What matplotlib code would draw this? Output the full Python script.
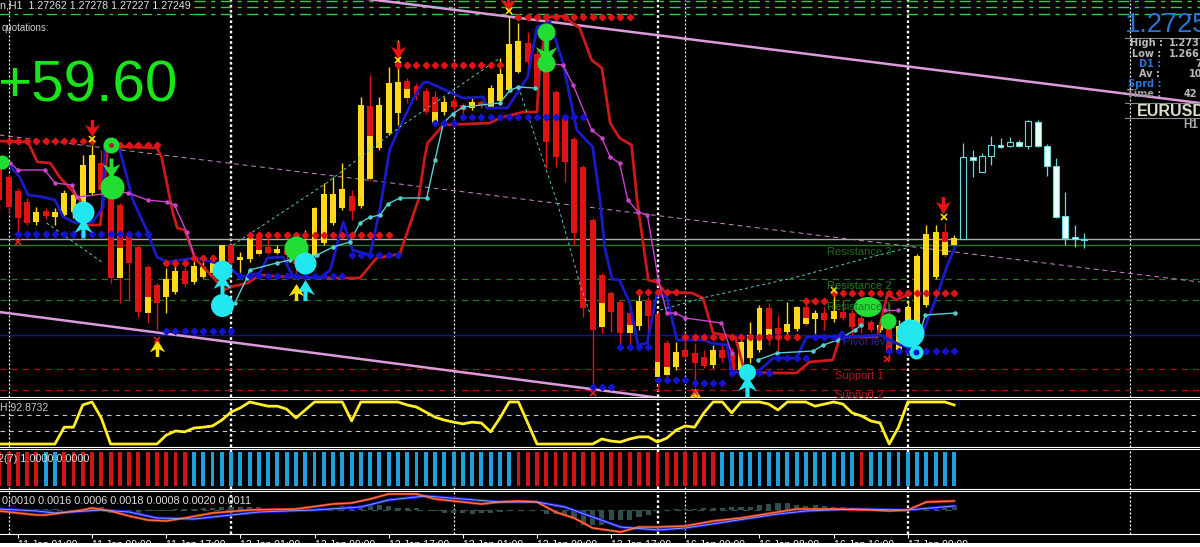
import numpy as np
import matplotlib
matplotlib.use('Agg')
import matplotlib.pyplot as plt
from matplotlib.patches import Ellipse

# all main chart levels are kept in pips above 1.2600
BASE = 1.26
PIP = 0.0001

highs = [162.5,157.5,151,146,141.5,141,141,150,150,167.5,172.5,170,159,143.5,129,122.5,112.5,103.5,111,112.5,
         111.5,115,114,117.5,122.5,123.5,119,127,129,126,122.5,121,125,130,141.5,153.5,156.5,163.5,150,196.5,
         207.5,196.5,211.5,225,206,203.5,201,199.5,196.5,196.5,193.5,196,195,202.5,216,237,233.5,229,220,220,
         200,186.5,176.5,162.5,136,108.5,99.5,95,91,98.5,96.5,89,75,74,76,73.5,70,72.5,72.5,71,
         75,84,92.5,93.5,87.5,94,92,95,90,91.5,100,95,90,87.5,85,83.5,93.5,85,95,118,
         132.5,132.5,133.5,127.5]
opens = [161.5,156.5,149.5,144,134,139.5,136.5,137.5,139,143.5,148.5,163.5,157.5,142.5,127.5,121.5,111.5,102.5,96.5,99,
         109.5,104,106.5,108.5,110,122.5,115,115.5,127.5,121.5,118.5,120,118.5,112.5,117.5,123.5,133.5,141,147,142,
         192,171,178.5,188.5,204.5,202,199.5,196.5,189,194.5,192.5,191,194,191.5,194.5,200,209,223.5,218,211.5,
         199,185.5,175.5,161.5,135,107.5,98.5,94,88.5,82,95,88,73.5,61.5,70,68.5,66.5,62.5,70,67.5,
         60,66,70,91,81,79,80.5,91.5,85.5,88.5,85.5,89,88.5,86,84,80,82,70,77.5,83,
         92.5,106.5,129,122.5]
closes = [145,141.5,136,133.5,139,137,139,148.5,147.5,162.5,167.5,150,106,106,113.5,89,88.5,93.5,105.5,109.5,
          103,112,111.5,113.5,122.5,113.5,116.5,126,118,118.5,120.5,117.5,113,121,141,148,148,150.5,139.5,192.5,
          155.5,192.5,203.5,204,196,197.5,189,183.5,194,191.5,190,194,192.5,201,208,223,224.5,214,201,174,
          166.5,164,128.5,91,80,81.5,89,78.5,78.5,94.5,87,56.5,57.5,69,66.5,63.5,62,70,66,60,
          74,77.5,91,77.5,78,83,91.5,83,88.5,85,89.5,86,81.5,82,80,82.5,69,82,91.5,117,
          128,129,117.5,126]
lows = [140,138.5,127.5,132.5,132.5,135.5,132.5,136.5,136,141,147.5,147.5,103.5,93.5,95,86.5,83.5,80,88.5,98,
        101.5,103,106,107.5,109,112.5,106.5,114,117,118,118,112.5,106,106,116.5,122.5,132.5,140,135,141,
        154.5,170,177.5,182.5,193.5,195,188,182.5,187.5,190,186,190,191,191.5,194,199,208.5,208.5,193.5,161,
        161.5,154,122.5,86.5,51.5,78.5,79,70,72.5,80,73.5,50,56,60,66,51.5,61,61,64,59,
        59,63.5,69,72.5,65,76,79.5,82,76,80,84,85,76.5,78.5,79,79,65,69,76,82,
        91.5,105.5,116.5,122]
# candles with a red top part and a yellow lower part: bar -> level of the colour change
split_levels = {13: 121, 16: 96.5, 28: 120, 40: 177, 44: 200.5, 47: 189, 65: 93.5, 68: 82.5, 71: 64,
                72: 61.5, 83: 80.5, 87: 86, 102: 124}

# projected candles, right of the last bar
future_bars = [104,105,106,107,108,109,110,111,112,113,114,115,116,117]
future_highs = [173.5,170,168.5,177,176,176.5,175,185,185,173,166,149,132.5,128.5]
future_opens = [125.5,166.5,159,167,172.5,172,174,172,184,172,162,137,126.5,125.5]
future_closes = [166.5,165,167,172.5,171.5,174,172,184.5,172,162,136.5,126,125.5,125]
future_lows = [125.5,156.5,159,162.5,171,171.5,171.5,170.5,171.5,157,136,122.5,121.5,121]

blue_bars = [0,0.9,2.2,3.1,4.7,6,6.9,8.2,10.1,11.2,11.4,13,14.4,15.9,17,18.1,21.1,23,24.9,26,28.1,28.9,30.6,31.7,
             34.6,35.7,37.1,38.1,40,41.1,42.1,43.2,44.6,45.7,46.2,50,52.2,52.6,54.8,57,58,59.4,60.8,61.9,62.3,64,
             64.8,65.3,66.1,66.9,68,68.9,69.9,70.9,72,73.1,76.1,76.7,78.5,79,81.8,83.5,86,87.1,90.4,90.9,91.4,95,
             97.2,98.8,99.3,101.1,102.2,103.1]
blue_line = [165,163.5,156.5,147.5,146.5,145,136.5,133.5,134,141.5,172.5,170,145,130,116.5,114,116,114,111,106.5,
             108.5,116,116.5,106.5,106,110,134,120,117.5,141.5,170,181.5,195,203.5,204,196,196.5,191,191,206.5,
             231.5,234,213.5,188.5,180,171.5,145,121.5,105.5,105,93.5,72.5,73.5,97.5,96.5,75,75,73.5,72.5,59,59,
             66,66,76.5,76.5,79,76.5,77.5,72.5,70,75,96.5,111.5,121.5]

red_bars = [0,3.1,4.1,5.5,6.5,7.8,8.7,9.2,10.9,11.7,17,17.5,18.7,19.2,20,21.1,23,24.3,24.9,26.8,28.1,31,37.5,38.9,
            40.7,43.2,45.2,45.9,46.2,47.9,52.9,54,56.5,58,58.3,59.1,60.8,62.6,63.9,65,65.9,66.9,68.2,68.8,70,
            70.9,71.8,74.7,75.9,77,79.4,80.4,83.1,86,87.4,89.9,90.7,94.7,95.8,96.8,98.1]
red_line = [174.5,174,164,163.5,156.5,150,145,132.5,132.5,172,171,166.5,139,131,130,116,106.5,100,101.5,103.5,107.5,
            106.5,106,106,116,118,145,166.5,173.5,182.5,183.5,186,189,189,211.5,236.5,237,231,215,211,183.5,176,
            172.5,145,105,104,99,98.5,96,78.5,76.5,59,58.5,58.5,64,65,76.5,76.5,98,95,98]

magenta_bars_a = [1.2,2,4.9,6,7.8,8.4,13,13.9,16,18.1,18.9,20.2,21.1]
magenta_a = [163.5,160,160,153.5,152.5,146.5,149,148.5,145,144,142.5,129,116]
magenta_bars_b = [58.6,60.8,61.9,63.9,65,65.9,66.9,67.8,68.9,69.9,71.1,72,72.9,74,77.9,79]
magenta_b = [213.5,212.5,202.5,180,176,166.5,163.5,145,139,137.5,105,88.5,88.5,86,83.5,68.5]
magenta_bars_c = [95.5,96.9]
magenta_c = [90,90]

cyan_bars_a = [25.4,26.7,27,29.9,31.4,34.3,36,37.8,38.9,40,41.1,41.9,43.2,46.1,47,47.9,48.9,50,54,55.1,56,57.8]
cyan_a = [93.5,106,110,113.5,115,117.5,121.5,124,133.5,136.5,137.5,143,146,146,165,183.5,188,191.5,193.5,200,201.5,201]
cyan_bars_b = [81.8,83.9,87.8,88.9,90.4,92.3,93]
cyan_b = [65,68.5,69.5,72.5,75,80,82.5]
cyan_bars_c = [99.3,99.9,103.1]
cyan_c = [78.5,87.5,88.5]

zigzag_bars = [[5.1,11.2],[25.2,35.3,43.2,54],[56,60.2,62.6,63.7],[71.3,76.3,85.6,93.6,97.9]]
zigzag_levels = [[133.5,113.5],[122.5,153.5,181.5,216],[201.5,143.5,103.5,88.5],[90,96.5,106,116,121]]

# first bar, last bar, level
red_dot_rows = [(1,10,174.5),(12,17,172.5),(18,20,113.5),(21,23,116),(27,42,127.5),(43,54,212.5),(56,68,236.5),
                (69,73,99),(74,86,76.5),(87,89,94.5),(90,103,98.5)]
blue_dot_rows = [(2,16,128),(18,25,79.5),(26,37,107),(38,43,117.5),(47,49,183.5),(50,63,186.5),(64,66,51.5),
                 (67,70,71.5),(71,74,55),(75,78,53.5),(79,83,58.5),(84,87,66),(88,91,76.5),(96,103,69.5)]

# level lines
grey_level = 125.5
green_level = 122.5
green_dashed = [105.5, 95]
blue_level = 77.5
red_dashed = [60.5, 50]
top_dashed = [244.5, 241.5, 238]
session_thick = [25, 71, 98]
session_thin = [1, 49, 74, 122]

# yellow oscillator, one value per bar
osc = [0,0,0,0,0,0,0,40,40,92.9,100,62,0,0,0,0,0,0,21,31,29,38,40,43,57,76,86,100,95,90,90,83,62,81,100,100,100,100,
       55,100,100,100,100,100,92.9,88,76,64,57,52,48,52,50,29,62,100,100,50,0,0,0,0,0,0,0,12,7,4.8,12,17,17,4.8,14,33,
       43,40,74,100,100,74,100,100,100,95,81,100,100,100,90,95,100,95,74,67,55,50,0,40,100,100,100,100,100,92.9]

# two colour state bars
state_bars = np.arange(104)
red_states = list(range(0,5)) + list(range(7,21)) + list(range(56,78)) + [93]

macd_red_bars = [0,4,5,9,10,12,14,16,18,20,23,27,32,36,38,40,42,45,47,50,52,54,56,58,60,62,64,67,69,71,74,77,80,84,86,
                 90,94,96,98,100,103]
macd_red = [-.0002,-.0010,-.0010,0,.0004,-.0002,-.0012,-.0020,-.0022,-.0016,-.0006,0,.0002,.0012,.0014,.0022,.0032,
            .0032,.0022,.0016,.0012,.0016,.0018,.0016,-.0004,-.0016,-.0036,-.0044,-.0034,-.0034,-.0032,-.0022,-.0016,
            -.0004,.0002,.0002,0,-.0002,0,.0016,.0018]
macd_blue_bars = [0,4,6,11,14,17,21,24,28,34,39,42,46,50,54,58,61,64,67,71,74,79,84,87,92,98,103]
macd_blue = [.0002,-.0002,-.0006,0,-.0004,-.0016,-.0018,-.0012,-.0004,0,.0006,.0020,.0028,.0022,.0016,.0016,.0006,
             -.0014,-.0034,-.0040,-.0036,-.0022,-.0008,-.0002,.0002,0,.0008]
macd_hist = [0,0,0,0,2,2,2,0,0,2,6,6,-6,-6,-6,-6,-2,-2,-2,2,2,2,4,4,6,6,6,6,6,2,2,2,2,2,2,2,2,8,8,10,10,10,8,4,4,4,0,
             -2,-6,-6,-6,-8,-6,-6,-4,-2,0,0,0,-8,-8,-12,-16,-30,-30,-30,-20,-20,-20,-14,-10,0,0,2,2,2,4,4,4,6,6,6,10,
             12,14,14,10,8,10,8,6,6,2,2,0,0,0,0,0,0,0,6,6,10]

tick_bars = [2,10,18,26,34,42,50,58,66,74,82,90,98]
tick_labels = ['11 Jan 01:00','11 Jan 09:00','11 Jan 17:00','12 Jan 01:00','12 Jan 09:00','12 Jan 17:00',
               '13 Jan 01:00','13 Jan 09:00','13 Jan 17:00','16 Jan 00:00','16 Jan 08:00','16 Jan 16:00',
               '17 Jan 00:00']

W, H = 1200.0, 547.0
YELLOW = '#ffd81a'
RED = '#e01212'
GREEN = '#22dd33'
CYAN = '#22e6f0'
BODY = 0.64
ARROW_DOWN = [(-.2,1),(.2,1),(.2,.1),(.9,.45),(0,-1),(-.9,.45),(-.2,.1)]
ARROW_UP = [(x,-y) for x,y in ARROW_DOWN]


def price(levels):
    return BASE + np.asarray(levels, dtype=float) * PIP


def panel(top, bottom):
    ax = fig.add_axes([0, 1 - bottom / H, 1, (bottom - top) / H])
    ax.set_facecolor('none')
    ax.set_xlim(0.072, 129.52)
    ax.set_xticks([])
    ax.set_yticks([])
    for side, spine in ax.spines.items():
        spine.set_color('white' if side in ('top', 'bottom') else 'none')
        spine.set_linewidth(0.8)
    for b in session_thick:
        ax.axvline(b, color='white', lw=1.7, ls=(0, (1.1, 1.1)), zorder=1)
    for b in session_thin:
        ax.axvline(b, color='white', lw=0.9, ls=(0, (1.6, 1.6)), zorder=1)
    return ax


def put(px, py, s, **kw):
    kw.setdefault('va', 'center')
    kw.setdefault('family', 'Liberation Sans')
    return fig.text(px / W, 1 - py / H, s, **kw)


def blob(bar, level, diam, color, z=6, **kw):
    ax.scatter([bar], price([level]), s=(diam * 0.72) ** 2, color=color, linewidths=0, zorder=z, **kw)


def arrow(bar, level, size, color, verts, z=7):
    ax.scatter([bar], price([level]), s=(size * 0.72) ** 2, marker=verts, color=color, linewidths=0, zorder=z)


fig = plt.figure(figsize=(12, 5.47), dpi=100, facecolor='white')
bg = fig.add_axes([0, 1 - 543 / H, 1, 543 / H], zorder=-1)
bg.set_facecolor('black')
bg.set_xticks([])
bg.set_yticks([])
for s in bg.spines.values():
    s.set_visible(False)

# main price panel
ax = panel(0, 397)
ax.set_ylim(price(46.5), price(245))
ax.spines['top'].set_visible(False)

ax.axhline(price(grey_level), color='#aaaaaa', lw=1.0, zorder=1)
ax.axhline(price(green_level), color='#1f7a1f', lw=1.0, zorder=1)
ax.axhline(price(blue_level), color='#1010b0', lw=1.0, zorder=1)
for lv in green_dashed:
    ax.axhline(price(lv), color='#1a7a1a', lw=0.9, ls=(0, (5, 4)), zorder=1)
for lv in red_dashed:
    ax.axhline(price(lv), color='#a81515', lw=0.9, ls=(0, (5, 4)), zorder=1)
for lv in top_dashed:
    ax.plot([21, 130], price([lv, lv]), color='#2ecf4a', lw=1.0, ls=(0, (8, 4, 3, 4)), zorder=1)
ax.plot([0, 21], price([238, 238]), color='#2ecf4a', lw=0.9, ls=(0, (8, 4, 3, 4)), zorder=1)

# trend channel
ax.plot([38.9, 129.5], price([246, 193.5]), color='#dc9cdc', lw=1.8, zorder=1)
ax.plot([0, 71.3], price([89, 46]), color='#dc9cdc', lw=1.8, zorder=1)
ax.plot([0, 129.5], price([177.5, 104]), color='#c88ac8', lw=0.7, ls=(0, (5, 4)), zorder=1)

# candles
for i in range(len(opens)):
    up = closes[i] > opens[i]
    col = YELLOW if up else RED
    ax.vlines(i, price(lows[i]), price(highs[i]), color=col, lw=1.0, zorder=2)
    bottom = min(opens[i], closes[i])
    top = max(opens[i], closes[i])
    if i in split_levels:
        ax.bar(i, price(top) - price(split_levels[i]), bottom=price(split_levels[i]), width=BODY, color=RED, zorder=2.2)
        ax.bar(i, price(split_levels[i]) - price(bottom), bottom=price(bottom), width=BODY, color=YELLOW, zorder=2.2)
    else:
        ax.bar(i, price(top) - price(bottom), bottom=price(bottom), width=BODY, color=col, zorder=2.2)

for j, b in enumerate(future_bars):
    o, c = future_opens[j], future_closes[j]
    ax.vlines(b, price(future_lows[j]), price(future_highs[j]), color='#66dcdc', lw=0.9, zorder=2)
    ax.bar(b, price(max(o, c)) - price(min(o, c)), bottom=price(min(o, c)), width=BODY,
           color='black' if c > o else '#eaffff', edgecolor='#66dcdc', lw=0.8, zorder=2.2)

# indicator lines
ax.plot(red_bars, price(red_line), color='#cc1a1a', lw=2.0, zorder=3)
ax.plot(blue_bars, price(blue_line), color='#1a1ac8', lw=2.0, zorder=3.1)
for bars, vals in [(magenta_bars_a, magenta_a), (magenta_bars_b, magenta_b), (magenta_bars_c, magenta_c)]:
    ax.plot(bars, price(vals), color='#cc44cc', lw=1.0, marker='o', ms=2.2, zorder=3.2)
for bars, vals in [(cyan_bars_a, cyan_a), (cyan_bars_b, cyan_b), (cyan_bars_c, cyan_c)]:
    ax.plot(bars, price(vals), color='#55d0d0', lw=1.0, marker='o', ms=2.2, zorder=3.3)
for bars, vals in zip(zigzag_bars, zigzag_levels):
    ax.plot(bars, price(vals), color='#55c8c8', lw=0.7, ls=(0, (3, 3)), zorder=3.3)

# stop level dots
for first, last, lv in red_dot_rows:
    bars = np.arange(first, last + 1)
    ax.plot(bars, price(np.full(len(bars), lv)), ls='none', marker='D', ms=3.3, color='#e01414', zorder=4)
for first, last, lv in blue_dot_rows:
    bars = np.arange(first, last + 1)
    ax.plot(bars, price(np.full(len(bars), lv)), ls='none', marker='D', ms=3.3, color='#1414d0', zorder=4)

# signal markers
blob(0.3, 164, 14, GREEN)
blob(12, 172.5, 16, GREEN)
blob(12, 172.5, 5, '#b02010', z=6.5)
blob(12.2, 151.5, 24, GREEN)
arrow(12, 161, 20, GREEN, ARROW_DOWN)
blob(32, 121, 24, GREEN)
blob(59, 229, 18, GREEN)
blob(59, 213.5, 18, GREEN)
arrow(59, 219, 24, GREEN, ARROW_DOWN)
blob(95.9, 84.5, 16, GREEN)
ax.add_patch(Ellipse((93.7, price(91.5)), 3.0, 10 * PIP, color=GREEN, lw=0, zorder=6))

blob(9, 139, 22, CYAN)
arrow(9, 131, 20, CYAN, ARROW_UP)
blob(24, 110, 20, CYAN)
arrow(24, 103, 20, CYAN, ARROW_UP)
blob(24, 92.5, 23, CYAN)
blob(33, 113.5, 22, CYAN)
arrow(33, 100, 21, CYAN, ARROW_UP)
arrow(32, 99, 17, '#ffe000', ARROW_UP)
blob(80.7, 59, 17, CYAN)
arrow(80.7, 52, 21, CYAN, ARROW_UP)
blob(98.2, 78.5, 28, CYAN)
blob(98.9, 69, 14, CYAN)
blob(98.9, 69, 6, '#1414d0', z=6.5)

arrow(10, 181, 17, '#ee1111', ARROW_DOWN)
arrow(43, 220, 17, '#ee1111', ARROW_DOWN)
arrow(54.9, 243.5, 17, '#ee1111', ARROW_DOWN)
arrow(101.8, 142.5, 17, '#ee1111', ARROW_DOWN)
arrow(17, 71, 17, '#ffe000', ARROW_UP)
arrow(75, 47.5, 14, '#ffc000', ARROW_UP)

for b, lv in [(10, 175.5), (43, 215), (55, 239.5), (101.9, 136.5), (90, 100)]:
    ax.plot([b], price([lv]), ls='none', marker='x', ms=4, mew=1.2, color='#ffe000', zorder=8)
for b, lv in [(2, 124), (17, 75), (64, 48.5), (95.8, 65.5), (75, 49)]:
    ax.plot([b], price([lv]), ls='none', marker='x', ms=4, mew=1.2, color='#e02020', zorder=8)

for lbl, b, lv, col in [('Resistance 3', 89.3, 119, '#1f6b1f'), ('Resistance 2', 89.3, 102, '#1f7a1f'),
                        ('Resistance 1', 89.3, 91.5, '#1f7a1f'), ('Pivot level', 91, 74, '#1a2aa0'),
                        ('Support 1', 90.2, 57, '#b01818'), ('Support 2', 90.2, 47.5, '#b01818')]:
    ax.text(b, price(lv), lbl, color=col, fontsize=8, family='Liberation Sans', va='center', zorder=9)

# oscillator panel
ax2 = panel(399, 447)
ax2.set_ylim(-7.1, 107.1)
for lv in [70, 30]:
    ax2.axhline(lv, color='#cccccc', lw=0.8, ls=(0, (4, 4)), zorder=1)
ax2.plot(np.arange(len(osc)), osc, color='#ffee22', lw=2.0, zorder=3)

# state bars
ax3 = panel(449, 489)
ax3.set_ylim(-0.09, 1.09)
state_colors = ['#d01515' if i in red_states else '#1ea0dc' for i in state_bars]
ax3.bar(state_bars, np.ones(len(state_bars)), width=0.42, color=state_colors, zorder=2)

# macd panel
ax4 = panel(491, 534)
ax4.set_ylim(-0.0048, 0.0038)
ax4.axhline(0, color='#2f4f4f', lw=0.9, ls=(0, (5, 4)), xmax=103 / 129.5, zorder=1)
ax4.bar(np.arange(len(macd_hist)), np.array(macd_hist) * 1e-4, width=0.56, color='#2f4f4f', zorder=2)
ax4.plot(macd_blue_bars, macd_blue, color='#1a1ad8', lw=2.2, zorder=3)
ax4.plot(macd_red_bars, macd_red, color='#dd3311', lw=1.8, zorder=3.1)
ax4.plot(macd_blue_bars, macd_blue, color='#7fa0ff', lw=0.7, zorder=3.2)
ax4.plot(macd_red_bars, macd_red, color='#e8a070', lw=0.5, zorder=3.3)

# time axis, labels cut by the window edge as in the screenshot
ax_time = fig.add_axes([0, 1 - 543 / H, 1, 9 / H])
ax_time.set_facecolor('none')
ax_time.set_xlim(0.072, 129.52)
ax_time.set_ylim(9, 0)
ax_time.axis('off')
ax_time.vlines(tick_bars, 0, 4, color='white', lw=0.8)
for b, lbl in zip(tick_bars, tick_labels):
    ax_time.text(b, 5.5, lbl, color='white', fontsize=7.5, va='top', ha='left', family='Liberation Sans', clip_on=True)

# header and terminal texts
put(0, 5, 'n,H1  1.27262 1.27278 1.27227 1.27249', color='#e0e0e0', fontsize=7.7)
put(2, 28, 'quotations:', color='#cccccc', fontsize=7)
put(-3, 87, '+59.60', color='#19e619', fontsize=42)
put(0, 408, 'H 92.8732', color='#cccccc', fontsize=7.5)
put(-2, 459, '2(7) 1.0000 0.0000', color='#dddddd', fontsize=7.8)
put(2, 501, '0.0010 0.0016 0.0006 0.0018 0.0008 0.0020 0.0011', color='#dddddd', fontsize=7.8)

put(1125, 25, '1.2725', color='#2a75d5', fontsize=19.5)
for y0 in [38, 103, 118]:
    fig.add_artist(plt.Line2D([1125 / W, 1], [1 - y0 / H, 1 - y0 / H], color='#888888', lw=0.8))
panel_rows = [(1130, 43, 'High :', '#bbbbbb', 1169, '1.273'), (1132, 54, 'Low :', '#bbbbbb', 1169, '1.266'),
              (1139, 64, 'D1 :', '#2a75d5', 1195, '7'), (1139, 74, 'Av :', '#bbbbbb', 1189, '10'),
              (1128, 84, 'Sprd :', '#2a75d5', 1195, ''), (1127, 94, 'Time :', '#999999', 1184, '42')]
for x0, y0, name, col, x1, val in panel_rows:
    put(x0, y0, name, color=col, fontsize=7, family='DejaVu Sans', weight='bold')
    put(x1, y0, val, color='#bbbbbb', fontsize=7, family='DejaVu Sans', weight='bold')
put(1137, 111, 'EURUSD', color='#ddddcc', fontsize=11.5, weight='bold')
put(1183, 125, 'H1', color='#aaaaaa', fontsize=8.5, weight='bold')

fig.savefig('out.png', dpi=100, facecolor='white')
